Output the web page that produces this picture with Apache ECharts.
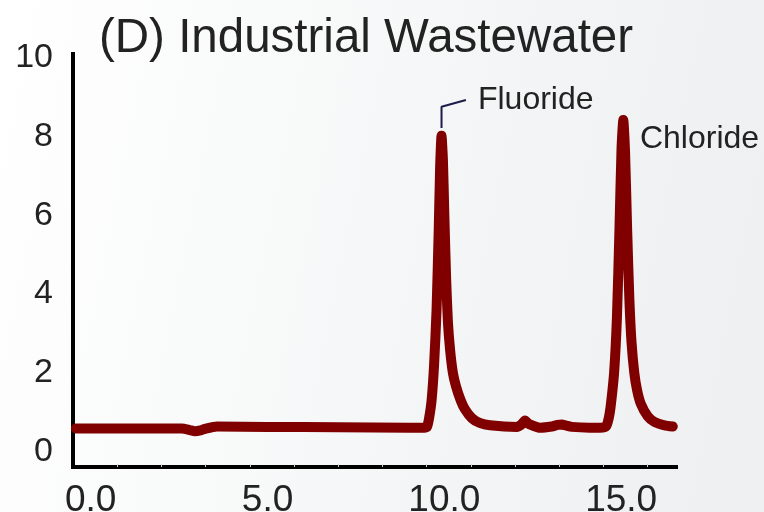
<!DOCTYPE html>
<html>
<head>
<meta charset="utf-8">
<script src="https://cdn.jsdelivr.net/npm/echarts@6/dist/echarts.min.js"></script>
<style>
html,body{margin:0;padding:0;}
#chart{width:764px;height:512px;}
</style>
</head>
<body>
<div id="chart"></div>
<script>
// Retention time (min) and detector signal
var timeMin = [-0.42, 1.0, 2.0, 2.58, 2.8, 2.95, 3.1, 3.23, 3.57, 5.0, 7.0, 9.0, 9.45,
  9.51, 9.57, 9.64, 9.71, 9.78, 9.84, 9.88, 9.92, 9.96, 10.0, 10.05, 10.1, 10.16, 10.24, 10.33, 10.46, 10.58, 10.78, 11.0, 11.29,
  12.05, 12.18, 12.28, 12.38, 12.48, 12.7, 13.04, 13.2, 13.32, 13.45, 13.6, 14.1,
  14.4, 14.57, 14.65, 14.71, 14.8, 14.88, 14.95, 15.01, 15.06, 15.11, 15.17, 15.23, 15.29, 15.37, 15.45, 15.55, 15.75, 15.95, 16.23, 16.46];
var signal = [0.58, 0.58, 0.58, 0.58, 0.54, 0.51, 0.53, 0.57, 0.63, 0.62, 0.61, 0.6, 0.6,
  0.62, 0.85, 1.3, 2.2, 3.6, 5.6, 7.2, 8.02, 7.4, 6.0, 4.4, 3.3, 2.6, 2.0, 1.65, 1.3, 1.07, 0.84, 0.72, 0.66,
  0.62, 0.68, 0.78, 0.7, 0.66, 0.6, 0.63, 0.67, 0.68, 0.65, 0.62, 0.6,
  0.6, 0.63, 0.85, 1.2, 2.0, 3.4, 5.6, 7.7, 8.42, 7.6, 5.6, 3.9, 2.8, 2.0, 1.55, 1.22, 0.89, 0.74, 0.66, 0.63];

var xTickLabels = [0, 5, 10, 15];
var yTickLabels = [0, 2, 4, 6, 8, 10];
var xMinorTicks = [0.75, 2.0, 3.25, 4.5, 5.75, 7.0, 8.25, 9.5, 10.75, 12.0, 13.25, 14.5, 15.75];

// Peak annotations
var peakNames = ['Fluoride', 'Chloride'];
var peakLabelX = [10.95, 15.53];
var peakLabelY = [8.93, 7.94];
var leaderX = [9.92, 9.92, 10.61];
var leaderY = [8.22, 8.76, 8.93];

var lineData = timeMin.map(function (t, i) { return [t, signal[i]]; });
var leaderData = leaderX.map(function (x, i) { return [x, leaderY[i]]; });
var labelData = peakNames.map(function (n, i) { return { name: n, value: [peakLabelX[i], peakLabelY[i]] }; });

var chart = echarts.init(document.getElementById('chart'), null, { renderer: 'canvas' });
chart.setOption({
  animation: false,
  backgroundColor: {
    type: 'linear', x: 0, y: 0, x2: 1, y2: 0.3,
    colorStops: [{ offset: 0, color: '#ffffff' }, { offset: 1, color: '#eef0f1' }]
  },
  title: {
    text: '(D) Industrial Wastewater',
    left: 94, top: 10,
    textStyle: { fontFamily: 'Liberation Sans, Arial, sans-serif', fontSize: 47.5, fontWeight: 'normal', color: '#222222' }
  },
  grid: { left: 73, right: 88, top: 54, bottom: 45, containLabel: false, outerBoundsMode: 'none' },
  xAxis: {
    type: 'value', min: -0.5, max: 16.55,
    axisLine: { show: true, onZero: false, lineStyle: { color: '#000', width: 4, cap: 'square' } },
    axisTick: { show: true, inside: true, length: 3, customValues: xMinorTicks, lineStyle: { color: '#d0d0d0', width: 1 } },
    axisLabel: {
      customValues: xTickLabels, margin: 15,
      fontFamily: 'Liberation Sans, Arial, sans-serif', fontSize: 37, color: '#222222',
      formatter: function (v) { return v.toFixed(1); }
    },
    splitLine: { show: false }
  },
  yAxis: {
    type: 'value', min: -0.4, max: 10.1,
    axisLine: { show: true, onZero: false, lineStyle: { color: '#000', width: 4, cap: 'square' } },
    axisTick: { show: false },
    axisLabel: {
      customValues: yTickLabels, margin: 20, padding: [6, 0, 0, 0],
      fontFamily: 'Liberation Sans, Arial, sans-serif', fontSize: 34, color: '#222222'
    },
    splitLine: { show: false }
  },
  series: [
    {
      type: 'line', data: lineData, showSymbol: false, symbol: 'none',
      smooth: 0.2,
      lineStyle: { color: '#800000', width: 10, cap: 'round', join: 'round' },
      z: 3
    },
    {
      type: 'line', data: leaderData, showSymbol: false, symbol: 'none',
      lineStyle: { color: '#1c1c4a', width: 2 },
      z: 2
    },
    {
      type: 'scatter', data: labelData, symbolSize: 0,
      itemStyle: { opacity: 1 },
      label: {
        show: true, position: 'right', distance: 0, opacity: 1,
        formatter: '{b}', textBorderWidth: 0,
        fontFamily: 'Liberation Sans, Arial, sans-serif', fontSize: 32, color: '#222222'
      },
      z: 4
    }
  ]
});
</script>
</body>
</html>
